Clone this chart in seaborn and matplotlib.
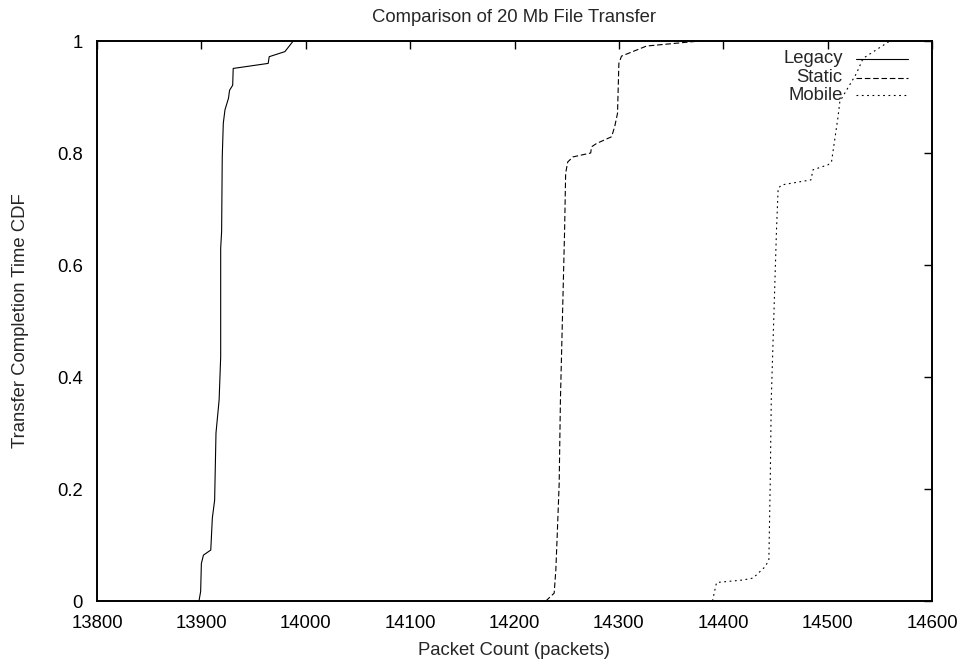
import matplotlib
matplotlib.use("Agg")
import matplotlib.pyplot as plt
import seaborn as sns
import pandas as pd
from matplotlib.lines import Line2D

# Empirical CDF samples of transfer completion (packet count vs cumulative fraction)
legacy_packets = [13897.7, 13899.3, 13900, 13902, 13909, 13910.5, 13912.7, 13914, 13917,
                  13918.5, 13918.5, 13919.4, 13920, 13921, 13922.6, 13926, 13927, 13930,
                  13930.5, 13964, 13965, 13980, 13988]
legacy_cdf = [0, 0.017, 0.067, 0.082, 0.091, 0.148, 0.18, 0.30, 0.359,
              0.436, 0.63, 0.66, 0.793, 0.853, 0.877, 0.898, 0.912, 0.921,
              0.951, 0.96, 0.972, 0.981, 1.0]

static_packets = [14230, 14238, 14239.6, 14241, 14242.8, 14244, 14248, 14249, 14251, 14256,
                  14273, 14273.8, 14278.6, 14293, 14296, 14298.7, 14300, 14302.5, 14326.5,
                  14377.6]
static_cdf = [0, 0.014, 0.055, 0.121, 0.21, 0.359, 0.662, 0.764, 0.784, 0.793,
              0.80, 0.811, 0.817, 0.829, 0.847, 0.871, 0.96, 0.973, 0.991,
              1.0]

mobile_packets = [14389.7, 14392, 14393.6, 14419, 14428.6, 14440, 14443.7, 14445, 14446,
                  14451, 14452.6, 14456, 14484, 14486, 14500.5, 14503.7, 14510, 14511.7,
                  14527.6, 14534, 14559.6]
mobile_cdf = [0, 0.02, 0.033, 0.0375, 0.041, 0.061, 0.073, 0.21, 0.359,
              0.662, 0.737, 0.743, 0.752, 0.77, 0.779, 0.784, 0.865, 0.892,
              0.942, 0.969, 1.0]

series_names = ["Legacy", "Static", "Mobile"]
x_ticks = [13800, 13900, 14000, 14100, 14200, 14300, 14400, 14500, 14600]
y_ticks = [0, 0.2, 0.4, 0.6, 0.8, 1.0]
y_tick_labels = ["0", "0.2", "0.4", "0.6", "0.8", "1"]

sns.set_style("white")
plt.rcParams["font.family"] = ["Liberation Sans", "DejaVu Sans"]
plt.rcParams["font.size"] = 13.3

frames = []
for name, xs, ys in [("Legacy", legacy_packets, legacy_cdf),
                     ("Static", static_packets, static_cdf),
                     ("Mobile", mobile_packets, mobile_cdf)]:
    frames.append(pd.DataFrame({"packets": xs, "cdf": ys, "series": name}))
data = pd.concat(frames, ignore_index=True)

styles = {"Legacy": "-", "Static": (0, (5, 2.5)), "Mobile": (0, (1.6, 3.2))}

fig = plt.figure(figsize=(9.63, 6.62), dpi=100)
ax = fig.add_axes([97 / 963, 61 / 662, 835 / 963, 560 / 662])

for name in series_names:
    sub = data[data["series"] == name]
    sns.lineplot(data=sub, x="packets", y="cdf", sort=False, estimator=None,
                 color="black", linewidth=0.8, linestyle=styles[name], ax=ax,
                 legend=False)

ax.set_xlim(13800, 14600)
ax.set_ylim(0, 1)
ax.set_xticks(x_ticks)
ax.set_xticklabels([str(t) for t in x_ticks])
ax.set_yticks(y_ticks)
ax.set_yticklabels(y_tick_labels)
ax.tick_params(direction="in", length=6, width=1.0, top=True, right=True,
               pad=10, labelsize=13.3, colors="black")
for spine in ax.spines.values():
    spine.set_linewidth(1.4)
    spine.set_color("black")

ax.set_xlabel("Packet Count (packets)", fontsize=13.3, labelpad=7)
ax.set_ylabel("Transfer Completion Time CDF", fontsize=13.3, labelpad=20)
ax.set_title("Comparison of 20 Mb File Transfer", fontsize=13.3, pad=13.5)

# gnuplot-style key: right-aligned labels followed by line samples
key_rows = [0.968, 0.934, 0.903]
for name, yk in zip(series_names, key_rows):
    ax.text(0.893, yk, name, transform=ax.transAxes, ha="right", va="center",
            fontsize=13.3)
    ax.add_line(Line2D([0.909, 0.971], [yk, yk], transform=ax.transAxes,
                       color="black", linewidth=0.8, linestyle=styles[name]))

fig.savefig("out.png", dpi=100)
